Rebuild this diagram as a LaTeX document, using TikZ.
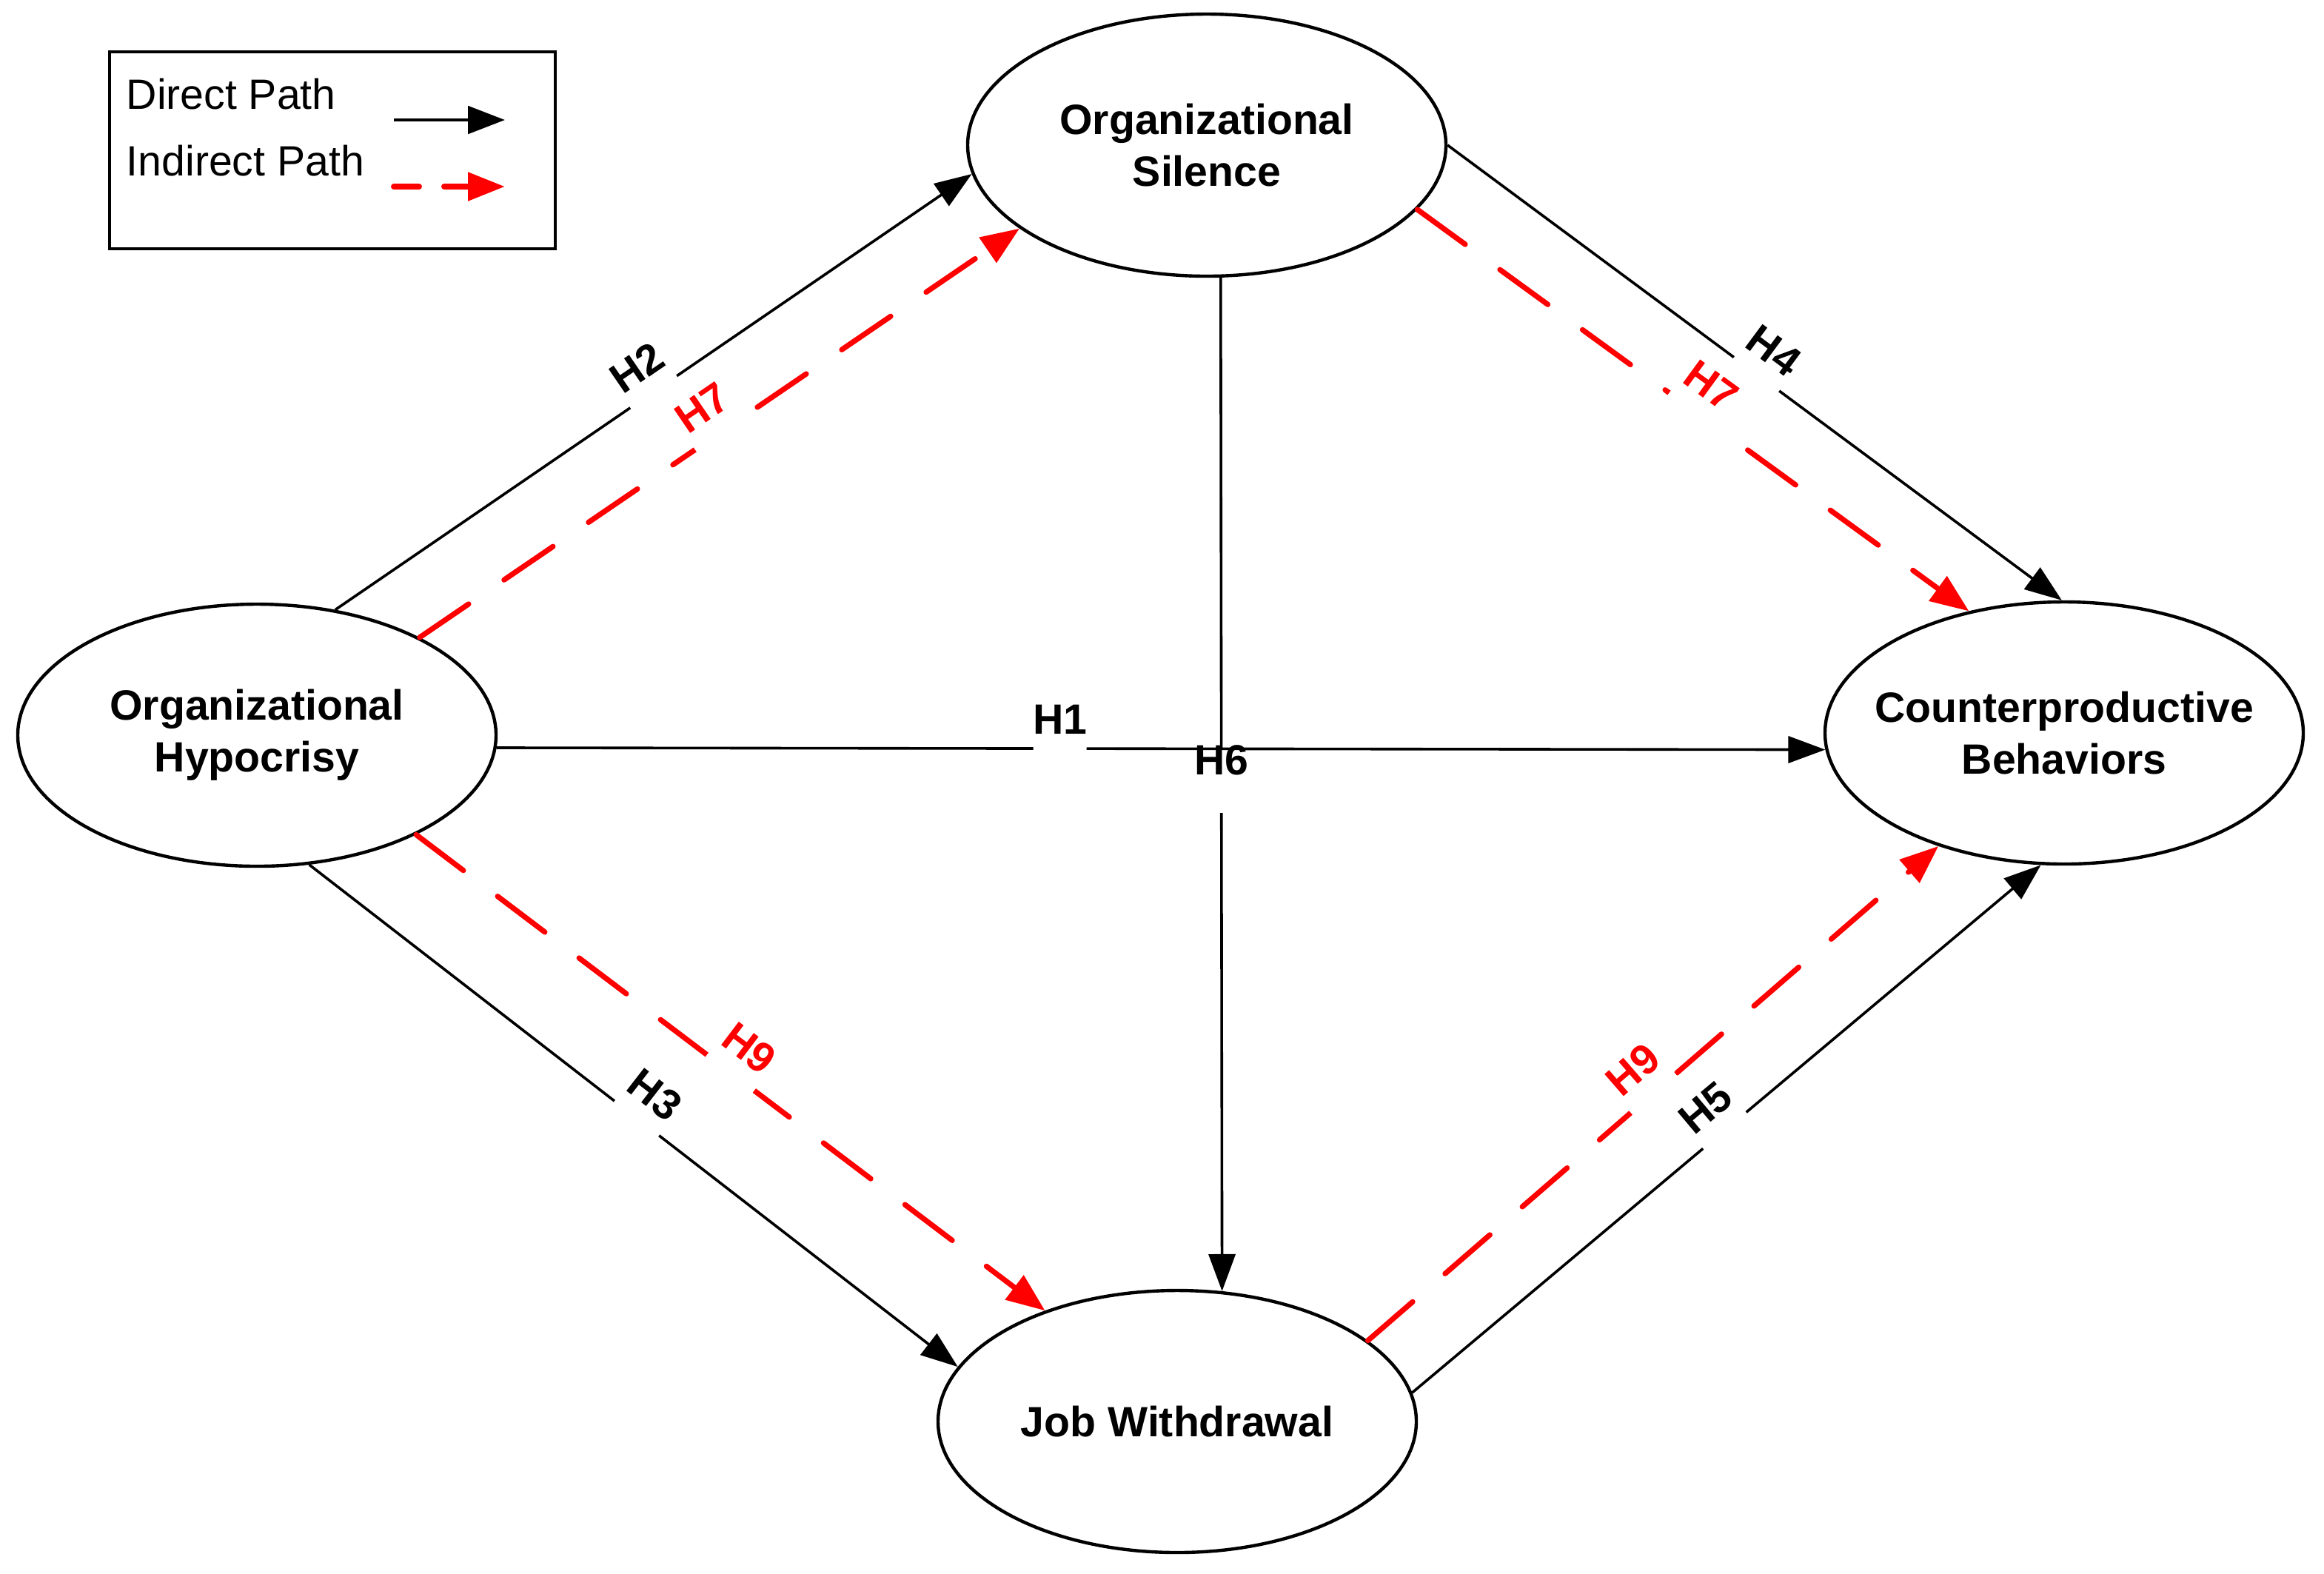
\documentclass[tikz,border=0pt]{standalone}
\usepackage{fontspec}
\setmainfont{Liberation Sans}
\usetikzlibrary{shapes.geometric,arrows.meta}
\tikzset{
  var/.style={ellipse, draw, line width=1.1pt, minimum width=161.5pt, minimum height=88.5pt,
    inner sep=0pt, align=center, font=\bfseries\fontsize{14.3}{17.5}\selectfont},
  direct/.style={draw=black, line width=0.9pt, -{Triangle[length=12.5pt,width=9pt]}},
  indirect/.style={draw=red, line width=1.8pt, line cap=round, dash pattern=on 20pt off 14.5pt,
    -{Triangle[length=13pt,width=10pt]}},
  gapbox/.style={fill=white, inner sep=0pt, minimum width=19pt, minimum height=5pt, sloped},
  hlbl/.style={font=\bfseries\fontsize{14.3}{17}\selectfont, inner sep=0pt, sloped, above=4.5pt},
  plainlbl/.style={font=\bfseries\fontsize{14.3}{17}\selectfont, inner sep=0pt},
  legtext/.style={anchor=base west, inner sep=0pt, font=\fontsize{14.3}{17}\selectfont},
  legdirect/.style={draw=black, line width=1.2pt, -{Triangle[length=12.5pt,width=9.3pt]}},
  legindirect/.style={draw=red, line width=2pt, line cap=round, dash pattern=on 8.5pt off 8.5pt,
    -{Triangle[length=12.5pt,width=9.3pt]}},
}
\begin{document}
\begin{tikzpicture}[x=0.5pt, y=-0.5pt]
\useasboundingbox (0,0) rectangle (1569.5,1062.5);

% legend
\node[draw, line width=1pt, minimum width=150.5pt, minimum height=66.5pt, inner sep=0pt] (legend) at (224.5,101.5) {};
\node[legtext] (ldirect) at (85,73.7) {Direct Path};
\node[legtext] (lindirect) at (85,118.6) {Indirect Path};
\coordinate (la1) at (266,81);
\coordinate (la2) at (341,81);
\coordinate (lb1) at (266,126);
\coordinate (lb2) at (341,126);
\draw[legdirect] (la1) -- (la2);
\draw[legindirect] (lb1) -- (lb2);

% constructs
\node[var] (hyp) at (173.5,496.5) {Organizational\\Hypocrisy};
\node[var] (sil) at (815,98) {Organizational\\Silence};
\node[var, inner xsep=-8pt] (cb) at (1394,495) {Counterproductive\\Behaviors};
\node[var] (jw) at (795,960) {Job Withdrawal};

% H6 (vertical)
\draw[direct] (sil.276.5) -- node[fill=white, inner sep=0pt, minimum width=8pt, minimum height=22pt, pos=.496] {}
  node[plainlbl, pos=.476] {H6} (jw.71);

% H1
\draw[direct] (hyp.-3.7) -- node[gapbox, minimum width=18pt, pos=.424] {}
  node[hlbl, pos=.424] {H1} (cb.184.3);

% direct paths
\draw[direct] (hyp.58.5) -- node[gapbox, pos=.5] {} node[hlbl, pos=.5] {H2} (sil.187);
\draw[direct] (sil.-0.7) -- node[gapbox, pos=.503] {} node[hlbl, pos=.503] {H4} (cb.91.3);
\draw[direct] (hyp.-68.9) -- node[gapbox, pos=.505] {} node[hlbl, pos=.505] {H3} (jw.166.2);
\draw[direct] (jw.7.1) -- node[gapbox, pos=.497] {} node[hlbl, pos=.497] {H5} (cb.260.9);

% indirect paths
\draw[indirect] (hyp.31.5) -- node[gapbox, minimum width=20pt, pos=.5] {} node[hlbl, text=red, pos=.5] {H7} (sil.204.2);
\draw[indirect] (sil.-17.2) -- node[gapbox, minimum width=20pt, pos=.5] {} node[hlbl, text=red, pos=.5] {H7} (cb.128.4);
\draw[indirect] (hyp.-32.7) -- node[gapbox, minimum width=20pt, pos=.5] {} node[hlbl, text=red, pos=.5] {H9} (jw.140.4);
\draw[indirect] (jw.23.75) -- node[gapbox, minimum width=20pt, pos=.5] {} node[hlbl, text=red, pos=.5] {H9} (cb.222.7);
\end{tikzpicture}
\end{document}
